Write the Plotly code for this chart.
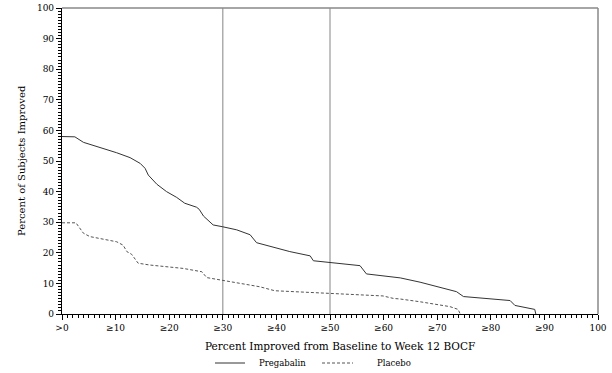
import plotly.graph_objects as go

# Data
preg_x = [0, 2.4, 4.0, 7.1, 10.2, 12.7, 14.6, 15.5, 16.1, 17.7, 19.5, 21.4, 22.9, 25.1, 25.6, 26.4, 28.2, 30.0, 32.6, 35.1,
          36.3, 42.5, 46.3, 46.9, 50.0, 55.6, 56.8, 63.1, 66.8, 70.0, 73.6, 74.9, 80.0, 83.6, 84.5, 88.2, 88.4]
preg_y = [58, 57.9, 56.1, 54.5, 52.7, 51.1, 49.2, 47.6, 45.4, 42.4, 40.0, 38.1, 36.2, 34.9, 34.2, 32.0, 29.1, 28.5, 27.5, 25.9,
          23.3, 20.4, 19.0, 17.4, 16.9, 15.8, 13.1, 11.8, 10.4, 8.9, 7.3, 5.7, 5.0, 4.4, 2.8, 1.5, 0]
plac_x = [0, 2.6, 4.0, 5.2, 10.2, 11.4, 12.1, 13.0, 14.2, 16.4, 22.6, 26.1, 27.0, 30.1, 35.1, 36.9, 39.7, 50.0, 59.9, 61.8,
          63.1, 66.8, 72.4, 73.9, 74.3]
plac_y = [29.8, 29.8, 26.4, 25.3, 23.6, 22.5, 20.4, 19.5, 16.6, 16.0, 14.9, 13.8, 11.9, 10.9, 9.5, 8.9, 7.6, 6.8, 5.9, 5.1,
          4.9, 4.0, 2.4, 1.5, 0]
x_tickvals = [0, 10, 20, 30, 40, 50, 60, 70, 80, 90, 100]
x_ticktext = [">0", "≥10", "≥20", "≥30", "≥40", "≥50", "≥60", "≥70", "≥80", "≥90", "100"]
y_tickvals = [0, 10, 20, 30, 40, 50, 60, 70, 80, 90, 100]
ref_lines = [30, 50]
series_names = ["Pregabalin", "Placebo"]

W, H = 612, 373
FONT = "DejaVu Serif"
PREG_STYLE = dict(color="#333333", width=1, dash="solid")
PLAC_STYLE = dict(color="#555555", width=1, dash="3px,2px")


def px(xp):
    return xp / W


def py(yp):
    return 1 - yp / H


fig = go.Figure()
fig.add_trace(go.Scatter(x=preg_x, y=preg_y, mode="lines", name=series_names[0],
                         line=PREG_STYLE, showlegend=False))
fig.add_trace(go.Scatter(x=plac_x, y=plac_y, mode="lines", name=series_names[1],
                         line=PLAC_STYLE, showlegend=False))

shapes = []
for v in ref_lines:
    shapes.append(dict(type="line", xref="x", yref="y domain", x0=v, x1=v, y0=0, y1=1,
                       line=dict(color="#999999", width=1.2), layer="below"))
shapes.append(dict(type="line", xref="x domain", yref="y domain", x0=0, x1=1, y0=1, y1=1,
                   line=dict(color="#888888", width=1.5)))
shapes.append(dict(type="line", xref="x domain", yref="y domain", x0=1, x1=1, y0=0, y1=1,
                   line=dict(color="#888888", width=1.5)))
# manual legend samples
shapes.append(dict(type="line", xref="paper", yref="paper", x0=px(215), x1=px(245), y0=py(363), y1=py(363),
                   line=PREG_STYLE))
shapes.append(dict(type="line", xref="paper", yref="paper", x0=px(322), x1=px(353), y0=py(363), y1=py(363),
                   line=PLAC_STYLE))

annotations = [
    dict(text="Percent Improved from Baseline to Week 12 BOCF", xref="paper", yref="paper",
         x=px(340), y=py(346), xanchor="center", yanchor="middle", showarrow=False,
         font=dict(family=FONT, size=10.5)),
    dict(text="Percent of Subjects Improved", xref="paper", yref="paper",
         x=px(21), y=py(161), xanchor="center", yanchor="middle", showarrow=False, textangle=-90,
         font=dict(family=FONT, size=10)),
    dict(text=series_names[0], xref="paper", yref="paper", x=px(257), y=py(363),
         xanchor="left", yanchor="middle", showarrow=False, font=dict(family=FONT, size=8.5)),
    dict(text=series_names[1], xref="paper", yref="paper", x=px(375), y=py(363),
         xanchor="left", yanchor="middle", showarrow=False, font=dict(family=FONT, size=8.5)),
]

fig.update_layout(
    width=W, height=H,
    margin=dict(l=0, r=0, t=0, b=0),
    paper_bgcolor="white", plot_bgcolor="white",
    font=dict(family=FONT, size=9, color="black"),
    shapes=shapes, annotations=annotations,
    showlegend=False,
)
fig.update_xaxes(domain=[62 / W, 598 / W], range=[0, 100], tickvals=x_tickvals, ticktext=x_ticktext,
                 ticks="outside", ticklen=5, tickcolor="black", showline=True, linecolor="black", linewidth=1.2,
                 showgrid=False, zeroline=False, automargin=False,
                 minor=dict(dtick=1, ticks="outside", ticklen=3, tickcolor="black", showgrid=False),
                 tickfont=dict(family=FONT, size=9))
fig.update_yaxes(domain=[1 - 314 / H, 1 - 8 / H], range=[0, 100], tickvals=y_tickvals,
                 ticks="outside", ticklen=5, tickcolor="black", showline=True, linecolor="black", linewidth=1.2,
                 showgrid=False, zeroline=False, automargin=False,
                 minor=dict(dtick=1, ticks="outside", ticklen=3, tickcolor="black", showgrid=False),
                 tickfont=dict(family=FONT, size=9))

fig.write_html("out.html", config={"displayModeBar": False},
               post_script="document.body.style.margin='0';")
